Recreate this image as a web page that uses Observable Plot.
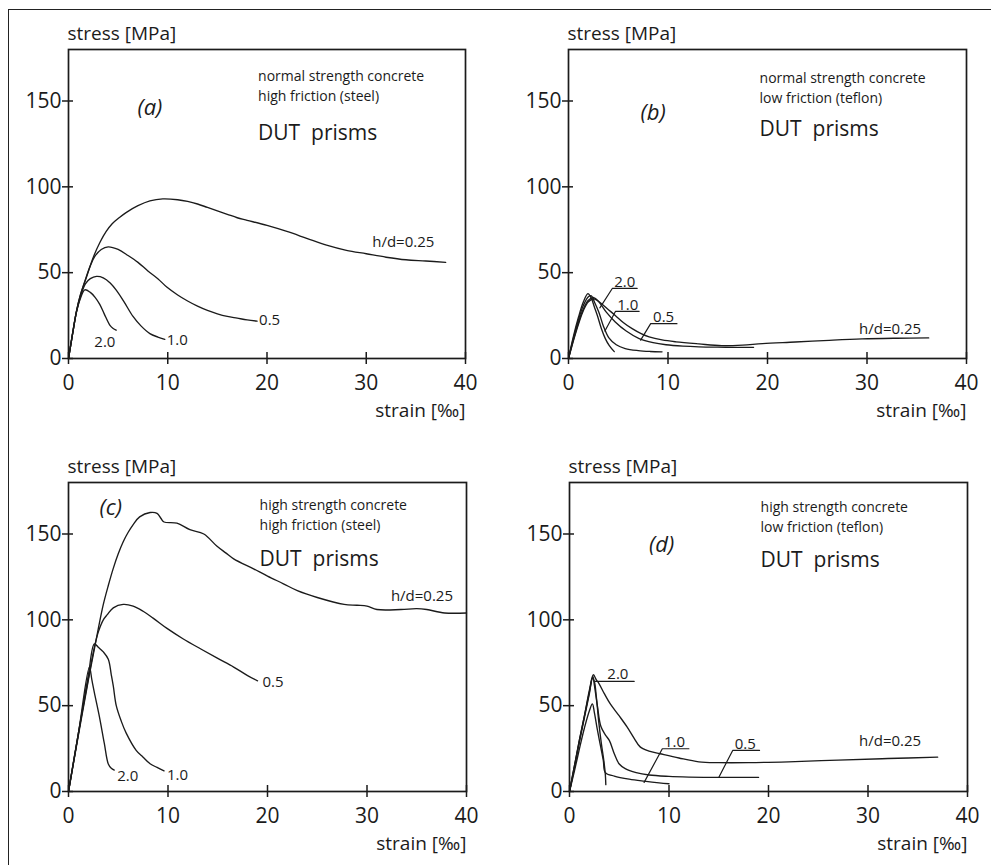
<!DOCTYPE html>
<html><head><meta charset="utf-8">
<script src="https://cdn.jsdelivr.net/npm/d3@7"></script>
<script src="https://cdn.jsdelivr.net/npm/@observablehq/plot@0.6"></script>
<style>
body{margin:0;background:#fff;}
#fig{position:relative;width:991px;height:865px;overflow:hidden;background:#fff;}
#border{position:absolute;left:8px;top:9px;width:1000px;height:900px;border-left:1.6px solid #222;border-top:1.6px solid #222;}
.panel{position:absolute;}
</style></head><body><div id="fig"><div id="border"></div></div>
<script>
// ---------- shared tick values & labels ----------
const xTicks = [0, 10, 20, 30, 40];
const yTicks = [0, 50, 100, 150];
const hdLevels = ["0.25", "0.5", "1.0", "2.0"];
const xTitle = "strain [‰]";
const yTitle = "stress [MPa]";

// ---------- (a) normal strength, high friction (steel) : [strain ‰, stress MPa] ----------
const a025 = [[0,0],[0.4,14],[0.8,27.5],[1.2,37],[1.7,45.5],[2.5,59],[3.2,68],[3.8,74],[4.4,78.5],[5.1,82],[5.8,85],[7,89],[8.2,91.8],[9.5,93],[11,92.5],[12,91.5],[13,90],[14,88],[15,86],[16,84],[17,82],[18,80.5],[20,77.5],[22,74],[24,70],[26,66],[28,63],[30,61],[32,59],[34,57.5],[36,56.8],[38,56]];
const a05  = [[0,0],[0.4,14],[0.8,27.5],[1.2,37],[1.7,46],[2.2,54],[2.65,59.5],[3.3,63.5],[4,65],[5,63.5],[6,60],[7,56],[8,51],[9,46.5],[9.9,41.6],[11,37],[12,33.5],[13,30.5],[14,28],[15,26],[16,24.5],[17,23.5],[18,22.5],[19,21.8]];
const a10  = [[0,0],[0.4,14],[0.8,27],[1.2,36],[1.7,43.5],[2.2,46.5],[2.82,47.8],[3.5,47],[4.2,44],[4.83,39.7],[5.6,33],[6.5,24.5],[7.3,19],[8.2,14.5],[9,12.5],[9.7,11.2]];
const a20  = [[0,0],[0.4,14],[0.8,27],[1.2,35],[1.64,40],[2.2,38.5],[2.7,35.5],[3.15,31.5],[3.6,26],[4.16,19.5],[4.5,17.5],[4.8,16.5]];

// ---------- (b) normal strength, low friction (teflon) ----------
const b025 = [[0,0],[0.5,10.5],[1,20],[1.5,28],[2,33],[2.55,34.8],[3.2,32.5],[3.9,29],[4.7,25.1],[5.5,21],[6.4,17.4],[7.3,14.5],[8.1,12.6],[9.4,10.8],[10.8,9.7],[13.1,8.5],[15.4,7.5],[17.5,7.8],[19.5,8.7],[22.8,9.6],[26.2,10.6],[29.5,11.4],[33,11.8],[36.2,12]];
const b05  = [[0,0],[0.5,11],[1,21],[1.5,29],[2,34],[2.55,35.5],[3.05,33],[3.8,27],[4.7,21.3],[5.8,16],[7.1,11.6],[8.5,9.2],[9.8,8],[11.5,7.2],[13.1,6.8],[15,6.6],[17,6.5],[18.6,6.5]];
const b10  = [[0,0],[0.5,12],[1,22.5],[1.5,31],[2,36],[2.3,36.5],[2.6,33],[3.05,27],[3.5,19],[4.06,12],[4.8,8],[5.7,5.8],[7,4.6],[8.2,4.1],[9.4,3.9]];
const b20  = [[0,0],[0.5,13],[1,24],[1.5,33],[1.95,37.8],[2.3,35],[2.6,30],[2.9,25],[3.3,17.5],[3.7,11.6],[4.1,7.5],[4.6,4]];

// ---------- (c) high strength, high friction (steel) ----------
const c025 = [[0,0],[1,33],[2,65],[2.5,80],[3,95],[3.5,109],[4,120],[4.5,130],[5,138.5],[5.5,145.5],[6,151],[6.5,155.5],[7.15,160],[8.2,162.5],[8.9,162],[9.3,159],[9.6,157],[10.9,156.3],[12.2,152.5],[13.6,150],[14.9,143],[15.8,139],[16.6,135.5],[18.6,129.7],[20,125.5],[21.6,121],[23,117],[25,113],[27.7,109],[29,108.5],[30,108],[31,106],[33.4,106],[35,106.5],[36,106],[37.8,104],[40,104]];
const c05  = [[0,0],[1,34],[2,66],[2.6,84],[3,93],[3.5,100],[3.9,103],[4.5,107],[5.5,109],[6.5,108],[7.5,105],[8.5,101],[9.9,95],[11.5,89],[13.3,83],[15,77.5],[16.6,72.5],[18,67.5],[19,64.5]];
const c10  = [[0,0],[1,34],[2,68],[2.6,86],[3,84],[3.5,81.3],[4,77],[4.3,68],[4.5,61.5],[4.8,50],[5.3,41],[5.8,34],[6.8,24],[7.5,20],[8.2,16.2],[8.9,14],[9.6,12]];
const c20  = [[0,0],[1,34],[2.1,72.4],[2.35,65],[2.6,57.6],[3.1,43.8],[3.6,28],[4,16],[4.3,13.5],[4.6,12.5]];

// ---------- (d) high strength, low friction (teflon) ----------
const d025 = [[0,0],[0.5,15],[1,30],[1.5,44],[2,59],[2.4,68],[2.7,65],[2.95,63],[3.5,57],[4.1,51],[5,44],[5.8,37.5],[6.5,31],[7.1,26],[8,23.5],[9.1,22],[11,19.5],[13,17.3],[15,16.8],[18,16.8],[22,17.3],[27,18.3],[32,19.2],[37,20]];
const d05  = [[0,0],[0.5,15],[1,30],[1.5,44],[2,58],[2.35,67],[2.5,62],[2.8,50],[3.15,38],[3.6,33],[4,29.8],[4.5,22],[5,16],[5.6,13.3],[6.7,11],[8,9.6],[10,8.8],[12,8.4],[14,8.2],[16,8.2],[19,8.2]];
const d10  = [[0,0],[0.5,12],[1,25],[1.5,37],[2,47],[2.3,51],[2.5,46],[2.8,36],[3.1,27],[3.4,18],[3.6,11],[4.5,9],[6,7.2],[7.5,6],[9,5],[10,4.5]];
const d20  = [[0,0],[0.5,14],[1,29],[1.5,43],[2,57],[2.3,66],[2.5,64],[2.7,55],[2.95,40],[3.2,28],[3.45,18],[3.6,10],[3.65,4]];

// ---------- per-panel texts ----------
const panelTags = ["(a)", "(b)", "(c)", "(d)"];
const noteLine1 = ["normal strength concrete", "normal strength concrete", "high strength concrete", "high strength concrete"];
const noteLine2 = ["high friction (steel)", "low friction (teflon)", "high friction (steel)", "low friction (teflon)"];
const noteLine3 = "DUT\u00a0\u00a0prisms";
const curveLabelText = ["h/d=0.25", "0.5", "1.0", "2.0"];

// label anchors in data units (strain, stress)
const labelsA = [[30.6,65],[19.2,19.4],[9.9,7.7],[2.6,6.7]];
const labelsB = [[29.2,14.5],[8.5,21.3],[4.9,28.5],[4.6,41.8]];
const labelsC = [[32.4,111],[19.5,60.6],[9.9,6.7],[4.9,5.9]];
const labelsD = [[29.1,26.3],[16.6,25],[9.5,26],[3.8,65.5]];

// leader + underline polylines (b) and (d), one per labelled curve
const leadersB = {"0.5": [[7.25,10.7],[8.26,20.3],[10.9,20.3]], "1.0": [[3.66,16],[4.73,27.5],[7.1,27.5]], "2.0": [[3.15,29.5],[4.4,40.8],[6.9,40.8]]};
const leadersD = {"0.5": [[15.0,8.2],[16.4,23.9],[19.1,23.9]], "1.0": [[7.5,5.3],[9.33,24.9],[12.0,24.9]], "2.0": [[2.5,64.1],[6.5,64.1]]};

// tag & note anchors (strain, stress)
const tagPos  = [[8.2,142],[8.5,139],[4.25,161],[9.25,139.6]];
const notePos = [[19.1,161.8,150.2,127.3],[19.2,160.3,148.7,129.5],[19.2,164,152.3,131.6],[19.2,163,151.4,130.8]];

// ---------- layout (pixels) ----------
const layout = [
  {left:0,   top:0,   w:495, mL:68, mR:30},
  {left:495, top:0,   w:496, mL:73, mR:25},
  {left:0,   top:433, w:495, mL:68, mR:29},
  {left:495, top:433, w:496, mL:74, mR:24}
];
const H = 432, mT = 49, mB = 74, ph = H - mT - mB;
const ink = "#1b1b1b";
const FONT = "'Open Sans', 'Noto Sans', sans-serif";

const seriesSets = [
  {"0.25": a025, "0.5": a05, "1.0": a10, "2.0": a20},
  {"0.25": b025, "0.5": b05, "1.0": b10, "2.0": b20},
  {"0.25": c025, "0.5": c05, "1.0": c10, "2.0": c20},
  {"0.25": d025, "0.5": d05, "1.0": d10, "2.0": d20}
];
const labelSets = [labelsA, labelsB, labelsC, labelsD];
const leaderSets = [null, leadersB, null, leadersD];

const fig = document.getElementById("fig");

layout.forEach((L, i) => {
  const pw = L.w - L.mL - L.mR;
  const rows = hdLevels.flatMap(h => seriesSets[i][h].map(([x, y]) => ({hd: h, x, y})));
  const labs = labelSets[i].map(([x, y], k) => ({x, y, t: curveLabelText[k]}));
  const leads = leaderSets[i] ? Object.entries(leaderSets[i]).flatMap(([h, pts]) => pts.map(([x, y]) => ({hd: h, x, y}))) : [];
  const np = notePos[i];
  const notes = [
    {x: np[0], y: np[1], t: noteLine1[i]},
    {x: np[0], y: np[2], t: noteLine2[i]}
  ];
  const chart = Plot.plot({
    width: L.w, height: H,
    marginLeft: L.mL, marginRight: L.mR, marginTop: mT, marginBottom: mB,
    style: {fontFamily: FONT, color: ink, background: "transparent", overflow: "visible"},
    x: {domain: [0, 40]},
    y: {domain: [0, 180]},
    marks: [
      Plot.frame({stroke: ink, strokeWidth: 1.7}),
      Plot.tickX(xTicks, {x: d => d, insetTop: ph - 6, insetBottom: -6, stroke: ink, strokeWidth: 1.5}),
      Plot.tickY(yTicks, {y: d => d, insetLeft: -6, insetRight: pw - 5, stroke: ink, strokeWidth: 1.5}),
      Plot.axisX({ticks: xTicks, tickSize: 0, tickPadding: 17, fontSize: 21, label: null}),
      Plot.axisY({ticks: yTicks, tickSize: 0, tickPadding: 7, fontSize: 21, label: null}),
      Plot.line(rows, {x: "x", y: "y", z: "hd", curve: "catmull-rom", stroke: ink, strokeWidth: 1.35}),
      Plot.line(leads, {x: "x", y: "y", z: "hd", stroke: ink, strokeWidth: 1.2}),
      Plot.text(labs, {x: "x", y: "y", text: "t", textAnchor: "start", lineAnchor: "bottom", fontSize: 15, fill: ink}),
      Plot.text(notes, {x: "x", y: "y", text: "t", textAnchor: "start", lineAnchor: "bottom", fontSize: 14, fill: ink}),
      Plot.text([noteLine3], {x: () => np[0], y: () => np[3], text: d => d, textAnchor: "start", lineAnchor: "bottom", fontSize: 21, fill: ink}),
      Plot.text([panelTags[i]], {x: () => tagPos[i][0], y: () => tagPos[i][1], text: d => d, textAnchor: "middle", lineAnchor: "bottom", fontSize: 22, fontStyle: "italic", fill: ink}),
      Plot.text([yTitle], {frameAnchor: "top-left", text: d => d, dx: -1, dy: -10, textAnchor: "start", lineAnchor: "bottom", fontSize: 19, fill: ink}),
      Plot.text([xTitle], {frameAnchor: "bottom-right", text: d => d, dy: 58, textAnchor: "end", lineAnchor: "bottom", fontSize: 19, fill: ink})
    ]
  });
  chart.classList.add("panel");
  chart.style.left = L.left + "px";
  chart.style.top = L.top + "px";
  chart.style.position = "absolute";
  fig.appendChild(chart);
});
</script>
</body></html>
